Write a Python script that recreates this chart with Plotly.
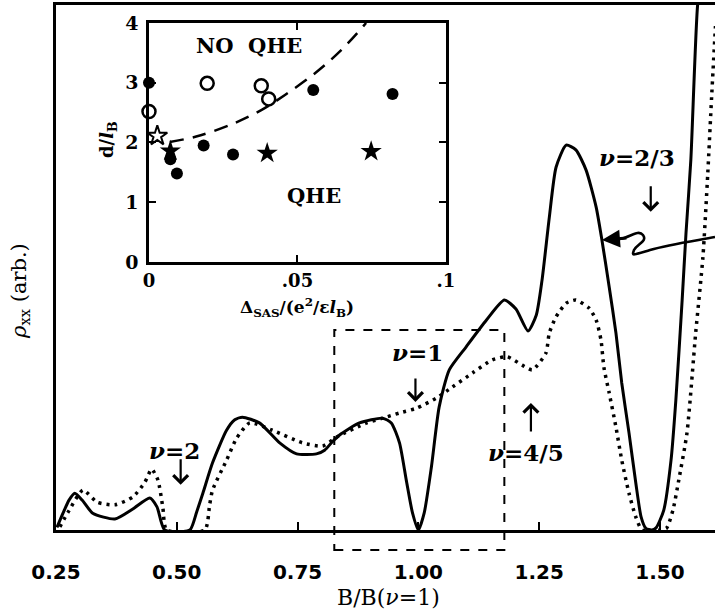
import plotly.graph_objects as go

# ---------------- main panel data (B/B(nu=1), rho_xx arb.) ----------------
solid_x = [0.252, 0.2645, 0.277, 0.289, 0.304, 0.326, 0.372, 0.409, 0.444, 0.459, 0.475,
           0.527, 0.541, 0.554, 0.574, 0.603, 0.620, 0.636, 0.671, 0.713, 0.748, 0.789,
           0.806, 0.822, 0.837, 0.878, 0.926, 0.944, 0.961, 0.975, 0.988, 1.000, 1.012,
           1.027, 1.043, 1.064, 1.099, 1.141, 1.178, 1.202, 1.227, 1.244, 1.256, 1.271,
           1.285, 1.306, 1.326, 1.347, 1.368, 1.380, 1.395, 1.409, 1.421, 1.436, 1.450,
           1.461, 1.471, 1.483, 1.492, 1.508, 1.523, 1.533, 1.546, 1.554, 1.564, 1.578, 1.590]
solid_y = [0.5, 3.2, 5.7, 7.0, 5.7, 3.2, 2.1, 4.0, 6.1, 4.4, 0.0,
           0.0, 3.4, 7.0, 12.8, 19.0, 21.0, 21.5, 20.4, 16.6, 14.5, 14.5,
           15.2, 16.8, 18.1, 20.4, 21.3, 20.4, 16.6, 9.5, 3.2, 0.0, 3.2,
           12.0, 23.4, 30.5, 34.9, 40.0, 43.8, 42.1, 37.9, 40.9, 47.6, 59.5,
           69.1, 73.3, 72.4, 68.6, 61.5, 55.2, 46.3, 37.5, 28.0, 18.5, 9.0,
           2.5, 0.3, 0.0, 0.4, 3.8, 13.3, 24.8, 43.8, 56.6, 70.5, 100.0, 108.0]

dot_x = [0.258, 0.275, 0.306, 0.335, 0.372, 0.409, 0.434, 0.448, 0.461, 0.471, 0.479,
         0.558, 0.568, 0.574, 0.603, 0.624, 0.651, 0.698, 0.760, 0.802, 0.831, 0.893,
         0.926, 0.961, 0.996, 1.037, 1.070, 1.112, 1.153, 1.184, 1.215, 1.236, 1.264,
         1.271, 1.285, 1.306, 1.326, 1.353, 1.368, 1.378, 1.384, 1.395, 1.409, 1.421,
         1.436, 1.450, 1.463, 1.502, 1.514, 1.527, 1.539, 1.556, 1.574, 1.589, 1.599,
         1.607, 1.615]
dot_y = [0.6, 3.4, 7.6, 5.3, 4.8, 6.3, 9.1, 11.6, 9.5, 4.4, 0.0,
         0.0, 4.8, 7.6, 13.3, 17.5, 20.4, 19.0, 16.6, 16.0, 17.7, 20.4,
         21.3, 22.3, 23.2, 25.1, 27.2, 29.9, 32.4, 33.0, 31.4, 30.5, 33.7,
         37.5, 40.6, 43.2, 43.8, 42.3, 40.0, 36.2, 31.0, 26.1, 19.6, 13.3,
         7.0, 2.5, 0.0, 0.0, 0.4, 3.8, 9.5, 18.5, 37.5, 52.0, 67.8, 82.5, 96.0]

x_ticks = [0.25, 0.50, 0.75, 1.00, 1.25, 1.50]
x_range = [0.25, 1.614]
y_range = [0, 100]

# ---------------- inset data (Delta_SAS/(e^2/eps l_B), d/l_B) ----------------
filled_circ_x = [0.0, 0.0072, 0.0094, 0.0184, 0.0283, 0.0553, 0.082]
filled_circ_y = [3.0, 1.72, 1.48, 1.95, 1.80, 2.88, 2.81]
open_circ_x = [0.0, 0.0196, 0.0378, 0.0403]
open_circ_y = [2.52, 2.99, 2.95, 2.73]
open_star_x = [0.0028]
open_star_y = [2.11]
filled_star_x = [0.0072, 0.0398, 0.0748]
filled_star_y = [1.86, 1.82, 1.85]
boundary_x = [0.007, 0.0159, 0.0281, 0.0381, 0.0459, 0.0559, 0.0648, 0.0731]
boundary_y = [2.01, 2.10, 2.31, 2.55, 2.80, 3.16, 3.55, 4.0]
inset_x_ticks = [0, 0.05, 0.1]
inset_x_text = ["0", ".05", ".1"]
inset_y_ticks = [0, 1, 2, 3, 4]

SERIF = "DejaVu Serif"
SANS = "DejaVu Sans"

fig = go.Figure()

fig.add_trace(go.Scatter(x=solid_x, y=solid_y, mode="lines",
                         line=dict(color="black", width=3, shape="spline", smoothing=0.6),
                         cliponaxis=True, showlegend=False))
fig.add_trace(go.Scatter(x=dot_x, y=dot_y, mode="lines",
                         line=dict(color="black", width=3.5, dash="3px,5px",
                                   shape="spline", smoothing=0.6),
                         cliponaxis=True, showlegend=False))

# inset
fig.add_trace(go.Scatter(x=boundary_x, y=boundary_y, mode="lines", xaxis="x2", yaxis="y2",
                         line=dict(color="black", width=2.5, dash="14px,9px", shape="spline"),
                         showlegend=False))
fig.add_trace(go.Scatter(x=filled_circ_x, y=filled_circ_y, mode="markers", xaxis="x2", yaxis="y2",
                         marker=dict(symbol="circle", size=12, color="black"),
                         cliponaxis=False, showlegend=False))
fig.add_trace(go.Scatter(x=open_circ_x, y=open_circ_y, mode="markers", xaxis="x2", yaxis="y2",
                         marker=dict(symbol="circle-open", size=13, color="black",
                                     line=dict(width=2.5, color="black")),
                         cliponaxis=False, showlegend=False))
fig.add_trace(go.Scatter(x=open_star_x, y=open_star_y, mode="markers", xaxis="x2", yaxis="y2",
                         marker=dict(symbol="star-open", size=15, color="black",
                                     line=dict(width=2, color="black")),
                         cliponaxis=False, showlegend=False))
fig.add_trace(go.Scatter(x=filled_star_x, y=filled_star_y, mode="markers", xaxis="x2", yaxis="y2",
                         marker=dict(symbol="star", size=16, color="black"),
                         cliponaxis=False, showlegend=False))

annotations = []

def txt(x, y, text, size=22, xref="x", yref="y", angle=0, family=SERIF, weight="bold"):
    annotations.append(dict(x=x, y=y, xref=xref, yref=yref, text=text, showarrow=False,
                            textangle=angle, xanchor="center", yanchor="middle",
                            font=dict(family=family, size=size, color="black", weight=weight)))

def arrow(x, y, ay, xref="x", yref="y"):
    annotations.append(dict(x=x, y=y, xref=xref, yref=yref, ax=0, ay=ay, text="",
                            showarrow=True, arrowhead=4, arrowsize=1.3, arrowwidth=2.2,
                            arrowcolor="black", font=dict(size=12)))

# main-panel labels
txt(1.452, 70.9, "<i>ν</i>=2/3", size=23)
arrow(1.481, 60.6, -27)
txt(0.998, 33.9, "<i>ν</i>=1", size=23)
arrow(0.994, 24.4, -25)
txt(1.223, 14.7, "<i>ν</i>=4/5", size=23)
arrow(1.233, 24.2, 30)
txt(0.496, 15.2, "<i>ν</i>=2", size=23)
arrow(0.508, 8.6, -27)

# axis titles
txt(0.505, -0.1295, "B/B(<i>ν</i>=1)", size=22, xref="paper", yref="paper", weight="normal")
txt(-0.055, 0.455, "<i>ρ</i><sub>xx</sub> (arb.)", size=21, xref="paper", yref="paper",
    angle=-90, weight="normal")

# inset texts
txt(0.0337, 3.63, "NO&nbsp;&nbsp;QHE", size=21, xref="x2", yref="y2")
txt(0.0557, 1.12, "QHE", size=21, xref="x2", yref="y2")
txt(0.3657, 0.424, "Δ<sub>SAS</sub>/(e<sup>2</sup>/ε<i>l</i><sub>B</sub>)", size=17,
    xref="paper", yref="paper")
txt(0.079, 0.743, "d/<i>l</i><sub>B</sub>", size=18, xref="paper", yref="paper", angle=-90)

# wiggly pointer arrow head (to solid curve)
annotations.append(dict(x=0.8285, y=0.5524, xref="paper", yref="paper", ax=26, ay=-2,
                        text="", showarrow=True, arrowhead=2, arrowsize=1.2, arrowwidth=3,
                        arrowcolor="black", font=dict(size=12)))

shapes = [
    # dashed box around nu=1 region
    dict(type="rect", xref="x", yref="paper", x0=0.826, x1=1.178, y0=-0.038, y1=0.381,
         line=dict(color="black", width=2, dash="9px,9px"), layer="above"),
    # squiggle of the pointer
    dict(type="path", xref="paper", yref="paper",
         path="M 1.0,0.558 C 0.97,0.551 0.93,0.544 0.9014,0.5333 S 0.874,0.522 0.8771,0.5333"
              " C 0.882,0.545 0.898,0.55 0.8907,0.5619 S 0.87,0.556 0.855,0.5543",
         line=dict(color="black", width=2.6)),
]

fig.update_layout(
    template="none",
    width=715, height=613,
    margin=dict(l=56, r=0, t=5, b=83, pad=0, autoexpand=False),
    paper_bgcolor="white", plot_bgcolor="white",
    showlegend=False,
    annotations=annotations,
    shapes=shapes,
    xaxis=dict(range=x_range, domain=[0, 1], showgrid=False, zeroline=False, automargin=False,
               showline=True, linewidth=3, linecolor="black", mirror=True,
               ticks="inside", ticklen=8, tickwidth=2, tickcolor="black",
               tickvals=x_ticks, tickformat=".2f", ticklabelstandoff=22,
               tickfont=dict(family=SANS, size=20, color="black", weight="bold")),
    yaxis=dict(range=y_range, domain=[0, 1], showgrid=False, zeroline=False, automargin=False,
               showline=True, linewidth=3, linecolor="black", mirror=False,
               showticklabels=False, ticks=""),
    xaxis2=dict(range=[0, 0.1], domain=[0.1411, 0.5918], anchor="y2", automargin=False,
                showgrid=False, zeroline=False, showline=True, linewidth=2.5,
                linecolor="black", mirror="ticks", ticks="inside", ticklen=7,
                tickwidth=2, tickcolor="black", tickvals=inset_x_ticks,
                ticktext=inset_x_text, ticklabelstandoff=1,
                tickfont=dict(family=SERIF, size=18, color="black", weight="bold")),
    yaxis2=dict(range=[0, 4], domain=[0.5105, 0.9657], anchor="x2", automargin=False,
                showgrid=False, zeroline=False, showline=True, linewidth=2.5,
                linecolor="black", mirror="ticks", ticks="inside", ticklen=7,
                tickwidth=2, tickcolor="black", tickvals=inset_y_ticks,
                ticklabelstandoff=4,
                tickfont=dict(family=SERIF, size=19, color="black", weight="bold")),
)

fig.write_html("out.html",
               config={"displayModeBar": False},
               post_script="document.body.style.margin='0';document.body.style.padding='0';"
                           "document.body.style.overflow='hidden';")
